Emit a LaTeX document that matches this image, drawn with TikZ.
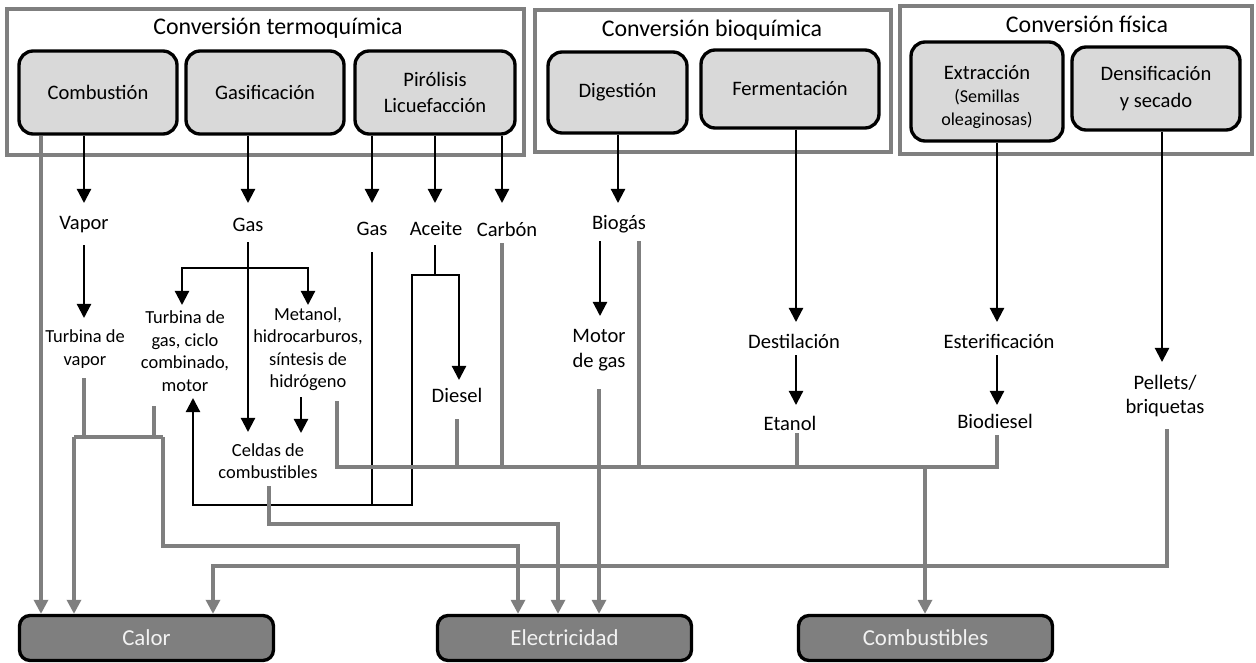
\documentclass[tikz,border=0pt]{standalone}
\usepackage{fontspec}
\setmainfont{Carlito}
\usetikzlibrary{arrows.meta}

\definecolor{lingray}{HTML}{7F7F7F}
\definecolor{procgray}{HTML}{D9D9D9}
\definecolor{outgray}{HTML}{7F7F7F}
\definecolor{outtext}{HTML}{F2F2F2}

\newcommand{\lblfont}{\fontsize{11.7}{14.2}\selectfont}
\newcommand{\smlfont}{\fontsize{10.5}{12.8}\selectfont}

\begin{document}
\begin{tikzpicture}[x=0.02cm, y=-0.02cm,
    >={Triangle[length=8pt, width=8pt]},
    group/.style={draw=lingray, line width=1.9pt},
    gtitle/.style={font=\fontsize{13.6}{16}\selectfont, inner sep=0pt},
    proc/.style={draw=black, line width=1.9pt, fill=procgray, rounded corners=8pt,
        align=center, font=\fontsize{11.7}{15}\selectfont, inner sep=0pt},
    outbox/.style={draw=black, line width=1.9pt, fill=outgray, rounded corners=6pt,
        text=outtext, font=\fontsize{13}{15}\selectfont,
        minimum width=5.08cm, minimum height=0.9cm, inner sep=0pt},
    lbl/.style={font=\lblfont, align=center, inner sep=1pt},
    slbl/.style={font=\smlfont, align=center, inner sep=1pt},
    flow/.style={line width=1.25pt},
    gflow/.style={draw=lingray, line width=1.8pt}]
    \useasboundingbox (0,0) rectangle (1256,662);

    % Conversion groups
    \draw[group] (7,9) rectangle (524,155);
    \draw[group] (535,10) rectangle (891,152);
    \draw[group] (900,6) rectangle (1252,154);
    \node[gtitle] (ttermo) at (278,28) {Conversión termoquímica};
    \node[gtitle] (tbio) at (712,30) {Conversión bioquímica};
    \node[gtitle] (tfis) at (1087,24) {Conversión física};

    % Processes
    \node[proc, minimum width=3.16cm, minimum height=1.66cm] (comb) at (98,92.5) {Combustión};
    \node[proc, minimum width=3.16cm, minimum height=1.66cm] (gasi) at (265,92.5) {Gasificación};
    \node[proc, minimum width=3.2cm, minimum height=1.66cm] (piro) at (435,92.5) {Pirólisis\\Licuefacción};
    \node[proc, minimum width=2.78cm, minimum height=1.62cm] (dige) at (617.5,92.5) {Digestión};
    \node[proc, minimum width=3.56cm, minimum height=1.56cm] (ferm) at (790,89) {Fermentación};
    \node[proc, minimum width=3.04cm, minimum height=1.98cm] (extr) at (987,91.5) {};
    \node[align=center, inner sep=0pt, font=\fontsize{11.7}{13}\selectfont] (extrtxt) at (987,97)
        {Extracción\\{\fontsize{10.3}{12}\selectfont (Semillas}\\{\fontsize{10.3}{12}\selectfont oleaginosas)}};
    \node[proc, minimum width=3.36cm, minimum height=1.66cm] (dens) at (1156,88.5) {Densificación\\y secado};

    % Products
    \node[lbl] (vapor) at (84,225) {Vapor};
    \node[lbl] (gasA) at (248,225) {Gas};
    \node[lbl] (gasB) at (372,229) {Gas};
    \node[lbl] (aceite) at (436,229) {Aceite};
    \node[lbl] (carbon) at (507,229) {Carbón};
    \node[lbl] (biogas) at (619,224) {Biogás};
    \node[slbl] (tvap) at (85,349) {Turbina de\\vapor};
    \node[slbl] (tgas) at (185,351) {Turbina de\\gas, ciclo\\combinado,\\motor};
    \node[slbl] (meta) at (308,349) {Metanol,\\hidrocarburos,\\síntesis de\\hidrógeno};
    \node[slbl] (celdas) at (268,461) {Celdas de\\combustibles};
    \node[lbl] (diesel) at (457,395) {Diesel};
    \node[lbl] (motor) at (599,350) {Motor\\de gas};
    \node[lbl] (destil) at (794,341) {Destilación};
    \node[lbl] (etanol) at (790,423) {Etanol};
    \node[lbl] (ester) at (999,341) {Esterificación};
    \node[lbl] (biodsl) at (995,421) {Biodiesel};
    \node[lbl] (pellets) at (1165,396) {Pellets/\\briquetas};

    % Final uses
    \node[outbox] (calor) at (146.5,638) {Calor};
    \node[outbox] (elec) at (564.5,638) {Electricidad};
    \node[outbox] (fuel) at (925.5,638) {Combustibles};

    % Black flows from the processes
    \draw[flow,->] (comb.south -| vapor) -- (vapor |- 0,203);
    \draw[flow,->] (gasi.south -| gasA) -- (gasA |- 0,203);
    \draw[flow,->] (piro.south -| gasB) -- (gasB |- 0,203);
    \draw[flow,->] (piro.south -| 435,0) -- (435,203);
    \draw[flow,->] (piro.south -| 502,0) -- (502,203);
    \draw[flow,->] (dige.south -| 618,0) -- (618,203);
    \draw[flow,->] (ferm.south -| 796,0) -- (796,322);
    \draw[flow,->] (extr.south -| 997,0) -- (997,322);
    \draw[flow,->] (dens.south -| 1162,0) -- (1162,362);

    % Black flows between products
    \draw[flow,->] (vapor |- 0,245) -- (vapor |- 0,318);
    \draw[flow,->] (gasA |- 0,242) -- (gasA |- 0,432);
    \draw[flow,<->] (182,305) -- (182,268) -- (308,268) -- (308,305);
    \draw[flow,->] (301,397) -- (301,433);
    \draw[flow,->] (435,245) -- (435,275) -| (459,380);
    \draw[flow,->] (435,275) -- (412,275) -- (412,505) -| (193,398);
    \draw[flow] (gasB |- 0,252) -- (gasB |- 0,505);
    \draw[flow,->] (600,241) -- (600,316);
    \draw[flow,->] (796,355) -- (796,405);
    \draw[flow,->] (997,355) -- (997,405);

    % Gray flows to heat
    \draw[gflow,->] (comb.south -| 41,0) -- (calor.north -| 41,0);
    \draw[gflow] (84,378) -- (84,437);
    \draw[gflow] (154,406) -- (154,437);
    \draw[gflow] (74,437) -- (163,437);
    \draw[gflow,->] (74,437) -- (calor.north -| 74,0);
    \draw[gflow,->] (1167,429) -- (1167,566) -| (calor.north -| 213,0);

    % Gray flows to electricity
    \draw[gflow,->] (163,437) -- (163,546) -| (elec.north -| 518,0);
    \draw[gflow,->] (269,486) -- (269,524) -| (elec.north -| 558,0);
    \draw[gflow,->] (599,389) -- (elec.north -| 599,0);

    % Gray flows to fuels
    \draw[gflow] (997,435) -- (997,467) -- (337,467) -- (337,401);
    \draw[gflow] (457,419) -- (457,467);
    \draw[gflow] (502,243) -- (502,467);
    \draw[gflow] (639,241) -- (639,467);
    \draw[gflow] (797,433) -- (797,467);
    \draw[gflow,->] (925,467) -- (fuel.north -| 925,0);
\end{tikzpicture}
\end{document}
